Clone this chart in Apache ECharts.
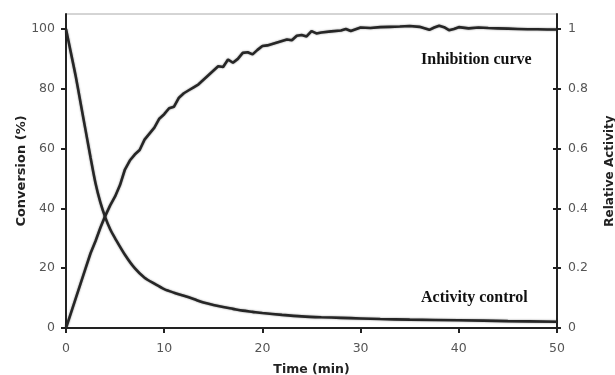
<!DOCTYPE html>
<html><head><meta charset="utf-8">
<script src="https://cdn.jsdelivr.net/npm/echarts@6/dist/echarts.min.js"></script>
<style>html,body{margin:0;padding:0;background:#fff}#c{width:615px;height:375px}</style>
</head><body><div id="c"></div>
<script>
const timeInhib = [0,0.5,1,1.5,2,2.5,3,3.5,4,4.5,5,5.5,6,6.5,7,7.5,8,8.5,9,9.5,10,10.5,11,11.5,12,12.5,13,13.5,14,14.5,15,15.5,16,16.5,17,17.5,18,18.5,19,19.5,20,20.5,21,21.5,22,22.5,23,23.5,24,24.5,25,25.5,26,27,28,28.5,29,30,31,32,33,34,35,36,37,37.5,38,38.5,39,39.5,40,41,42,43,44,45,46,47,48,49,50];
const conversion = [0,5,10,15,20,25,29,33.5,37.5,41,44,47.8,53,56,58,59.5,63,65,67,70,71.5,73.5,74,77,78.5,79.5,80.5,81.5,83,84.5,86,87.5,87.3,89.8,88.7,90,92,92.2,91.5,93,94.3,94.5,95,95.5,96,96.5,96.2,97.7,98,97.5,99.3,98.5,98.8,99.2,99.5,100,99.3,100.5,100.3,100.6,100.7,100.8,101,100.7,99.7,100.5,101.1,100.6,99.6,100,100.6,100.2,100.5,100.3,100.2,100.1,100,99.9,99.9,99.8,99.8];
const timeActivity = [0,0.5,1,1.5,2,2.5,3,3.5,4,4.5,5,6,7,8,9,10,11,12,13,14,15,16,17,18,19,20,22,24,26,28,30,32,35,40,45,50];
const activity = [1.0,0.92,0.84,0.75,0.66,0.57,0.485,0.42,0.37,0.33,0.30,0.245,0.20,0.168,0.148,0.13,0.118,0.108,0.097,0.085,0.077,0.07,0.064,0.058,0.054,0.05,0.044,0.039,0.036,0.034,0.032,0.03,0.028,0.026,0.023,0.021];
const xTicks = [0,10,20,30,40,50];
const leftTicks = [0,20,40,60,80,100];
const rightTicks = [0,0.2,0.4,0.6,0.8,1];

const chart = echarts.init(document.getElementById('c'));
const lab = {color:'#555', fontFamily:'DejaVu Sans', fontSize:12.5};
const nameStyle = {fontFamily:'DejaVu Sans', fontWeight:'bold', fontSize:12.5, color:'#222'};
const lineStyle = {width:2.6, color:'#262626', shadowBlur:2, shadowColor:'rgba(0,0,0,0.45)'};
chart.setOption({
  animation:false,
  grid:{left:66, right:58, top:14, bottom:47, show:true, borderColor:'#aaa', borderWidth:1, outerBoundsMode:'none', containLabel:false},
  xAxis:{type:'value', min:0, max:50, interval:10, name:'Time (min)', nameLocation:'middle', nameGap:35, nameMoveOverlap:false,
    nameTextStyle:nameStyle,
    axisLine:{lineStyle:{color:'#222', width:2}}, axisTick:{show:true, length:5, lineStyle:{color:'#222', width:2}},
    axisLabel:Object.assign({margin:14, customValues:xTicks}, lab), splitLine:{show:false}},
  yAxis:[
    {type:'value', min:0, max:105, name:'Conversion (%)', nameLocation:'middle', nameGap:38, nameRotate:90, nameMoveOverlap:false,
     nameTextStyle:Object.assign({}, nameStyle, {fontSize:13}), position:'left',
     axisLine:{show:true, lineStyle:{color:'#222', width:2}},
     axisTick:{show:true, length:5, customValues:leftTicks, lineStyle:{color:'#222', width:2}},
     axisLabel:Object.assign({margin:11, customValues:leftTicks}, lab), splitLine:{show:false}},
    {type:'value', min:0, max:1.05, name:'Relative Activity', nameLocation:'middle', nameGap:47, nameRotate:90, nameMoveOverlap:false,
     nameTextStyle:Object.assign({}, nameStyle, {fontSize:12}), position:'right',
     axisLine:{show:true, lineStyle:{color:'#222', width:2}},
     axisTick:{show:true, length:4, customValues:rightTicks, lineStyle:{color:'#222', width:2}},
     axisLabel:Object.assign({margin:11, customValues:rightTicks}, lab), splitLine:{show:false}},
    {type:'value', min:0, max:1.05, position:'right',
     axisLine:{show:false}, axisTick:{show:true, inside:true, length:4, customValues:rightTicks.slice(1,5), lineStyle:{color:'#222', width:2}},
     axisLabel:{show:false}, splitLine:{show:false}}
  ],
  graphic:[
    {type:'text', left:421, top:52, style:{text:'Inhibition curve', font:'bold 16px "Liberation Serif"', fill:'#111'}},
    {type:'text', left:421, top:290, style:{text:'Activity control', font:'bold 16px "Liberation Serif"', fill:'#111'}}
  ],
  series:[
    {name:'Inhibition curve', type:'line', yAxisIndex:0, showSymbol:false, smooth:false,
     data: timeInhib.map((t,i)=>[t, conversion[i]]), lineStyle:lineStyle},
    {name:'Activity control', type:'line', yAxisIndex:1, showSymbol:false, smooth:0.3,
     data: timeActivity.map((t,i)=>[t, activity[i]]), lineStyle:lineStyle}
  ]
});
</script></body></html>
